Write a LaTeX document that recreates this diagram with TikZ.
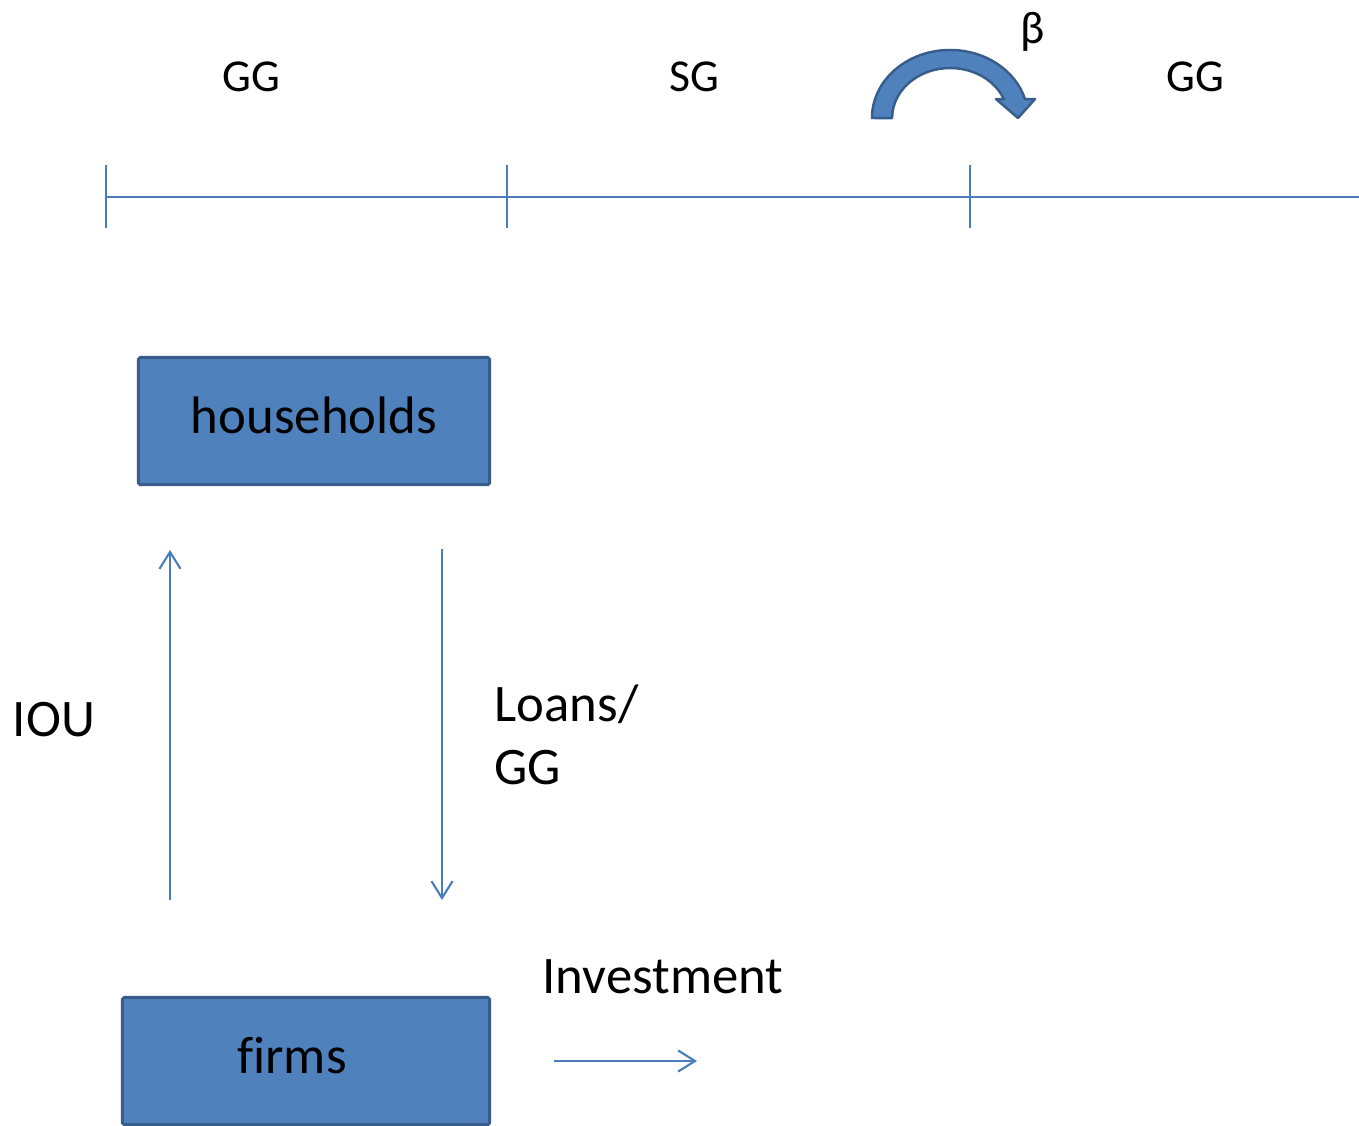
\documentclass[tikz,border=0pt]{standalone}
\usepackage{fontspec}
\setmainfont{Carlito}[Ligatures={TeX,NoCommon}]
\usetikzlibrary{arrows.meta}
\definecolor{boxblau}{HTML}{4F81BD}
\definecolor{randblau}{HTML}{385D8A}
\definecolor{linienblau}{HTML}{4A7EBB}

\begin{document}
\begin{tikzpicture}[x=0.01cm, y=0.01cm,
        sektor/.style={font=\fontsize{13}{15}\selectfont, inner sep=0pt},
        beschriftung/.style={font=\fontsize{15}{18}\selectfont, inner sep=0pt},
        kasten/.style={draw=randblau, fill=boxblau, line width=0.85pt, rounded corners=0.5pt,
            minimum height=1.27cm, inner sep=0pt, text depth=0.12cm, font=\fontsize{15}{18}\selectfont},
        pfeil/.style={-{Straight Barb[length=4.8pt, width=6pt]}, linienblau, line width=0.6pt}]
        \useasboundingbox (0,0) rectangle (1359,-1126);

        % zeichne Zeitachse
        \coordinate (t0) at (106,-197);
        \coordinate (t1) at (507,-197);
        \coordinate (t2) at (970,-197);
        \coordinate (tend) at (1359,-197);
        \draw[linienblau, line width=0.7pt] (t0) -- (tend);
        \draw[linienblau, line width=0.7pt] (106,-165) -- (106,-228);
        \draw[linienblau, line width=0.7pt] (507,-165) -- (507,-228);
        \draw[linienblau, line width=0.7pt] (970,-165) -- (970,-228);

        % zeichne Labels der Zeitachse
        \node[sektor] (gg1) at (251,-77) {GG};
        \node[sektor] (sg) at (694,-77) {SG};
        \node[sektor] (gg2) at (1195,-77) {GG};
        \node[sektor] (beta) at (1033,-32) {β};

        % zeichne gebogenen Pfeil
        \fill[boxblau, draw=randblau, line width=0.7pt, line join=round]
            (872,-118) arc[start angle=180, end angle=16, x radius=0.78cm, y radius=0.68cm]
            -- (1035,-99) -- (1018,-118) -- (996,-99) -- (1004,-99.3)
            arc[start angle=22, end angle=180, x radius=0.58cm, y radius=0.50cm] -- cycle;

        % zeichne Kaesten
        \node[kasten, minimum width=3.51cm] (households) at (314,-421) {households};
        \node[kasten, minimum width=3.67cm] (firms) at (306,-1061) {firms\hspace*{0.28cm}};

        % zeichne Pfeile
        \coordinate (iouA) at (170,-900);
        \coordinate (iouB) at (170,-550);
        \coordinate (loanA) at (442,-549);
        \coordinate (loanB) at (442,-900);
        \coordinate (invA) at (554,-1061);
        \coordinate (invB) at (697,-1061);
        \draw[pfeil] (iouA) -- (iouB);
        \draw[pfeil] (loanA) -- (loanB);
        \draw[pfeil] (invA) -- (invB);

        % zeichne Beschriftungen
        \node[beschriftung] (iou) at (54,-720) {IOU};
        \node[beschriftung, anchor=west, align=left, font=\fontsize{15}{17.9}\selectfont] (loans) at (494,-735) {Loans/\\GG};
        \node[beschriftung] (invest) at (663,-977) {Investment};
    \end{tikzpicture}
\end{document}
